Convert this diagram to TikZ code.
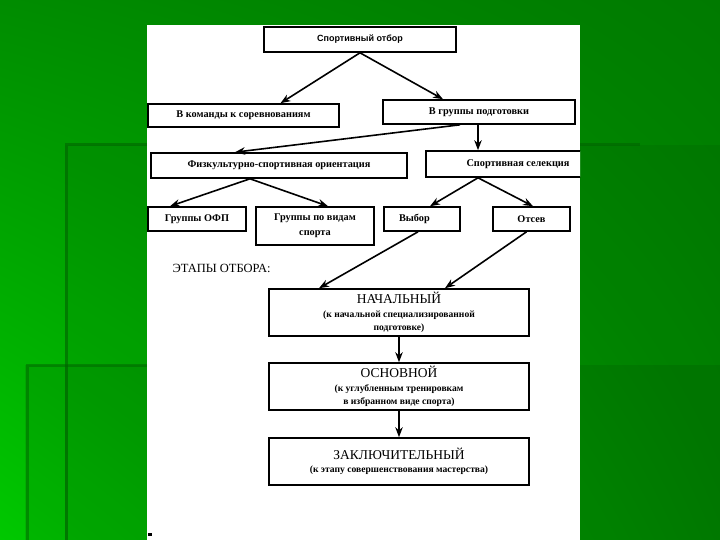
\documentclass[tikz,border=0pt]{standalone}
\usepackage{fontspec}
\setmainfont{Liberation Serif}
\setsansfont{Liberation Sans}
\usetikzlibrary{arrows.meta,shadings}
\definecolor{slidedark}{HTML}{007A00}
\definecolor{slidemid}{HTML}{008C00}
\definecolor{slidelight}{HTML}{00C800}
\definecolor{slideedge}{HTML}{006400}
\tikzset{
  box/.style={draw=black, line width=1.6pt, fill=white, inner sep=1pt, align=center,
    font=\bfseries\fontsize{10.3}{15}\selectfont},
  stage/.style={box, minimum width=260pt, minimum height=47pt, font=\fontsize{9.6}{13.5}\selectfont\bfseries},
  arr/.style={-{Stealth[length=10pt, width=7.5pt]}, line width=1.6pt},
}
\newcommand{\stagetitle}{\mdseries\fontsize{13.5}{15}\selectfont}

\begin{document}
\begin{tikzpicture}[x=1pt, y=-1pt]
  \useasboundingbox (0,0) rectangle (720,540);
  % slide background
  \shade[upper left=slidemid, upper right=slidedark, lower left=slidelight, lower right=slidemid]
    (0,0) rectangle (720,540);
  \fill[black, opacity=0.06] (65,145) rectangle (720,540);
  \draw[slideedge, line width=3pt, opacity=0.6] (66,540) -- (66,145) -- (640,145);
  \fill[black, opacity=0.08] (25,365) rectangle (720,540);
  \draw[slideedge, line width=3pt, opacity=0.5] (27,540) -- (27,365) -- (200,365);
  % page
  \fill[white] (147,25) rectangle (580,540);
  \fill[black] (148,533) rectangle (152,536);

  \begin{scope}
  \clip (147,25) rectangle (580,540);
  % upper levels
  \node[box, minimum width=192pt, minimum height=25pt, font=\sffamily\bfseries\fontsize{9}{10}\selectfont]
    (sport) at (360,39.5) {Спортивный отбор};
  \node[box, minimum width=191pt, minimum height=23pt] (teams) at (243.5,115.5) {В команды к соревнованиям};
  \node[box, minimum width=192pt, minimum height=24pt] (groups) at (479,112) {В группы подготовки};
  \node[box, minimum width=256pt, minimum height=25pt] (orient) at (279,165.5) {Физкультурно-спортивная ориентация};
  \node[box, minimum width=184pt, minimum height=26pt] (select) at (518,164) {Спортивная селекция};

  % third level
  \node[box, minimum width=98pt, minimum height=24pt] (ofp) at (197,219) {Группы ОФП};
  \node[box, minimum width=118pt, minimum height=38pt] (kinds) at (315,226) {Группы по видам\\спорта};
  \node[box, minimum width=76pt, minimum height=24pt, text width=66pt, align=left] (choice) at (422,219) {\hspace*{10pt}Выбор};
  \node[box, minimum width=77pt, minimum height=24pt] (dropout) at (531.5,219) {Отсев};

  % stages
  \node[anchor=west, font=\fontsize{12.5}{14}\selectfont] (stages) at (169,268) {ЭТАПЫ ОТБОРА:};
  \node[stage] (initial) at (399,312.5)
    {{\stagetitle НАЧАЛЬНЫЙ}\\(к начальной специализированной\\подготовке)};
  \node[stage] (basic) at (399,386.5)
    {{\stagetitle ОСНОВНОЙ}\\(к углубленным тренировкам\\в избранном виде спорта)};
  \node[stage] (final) at (399,461.5)
    {{\stagetitle ЗАКЛЮЧИТЕЛЬНЫЙ}\\(к этапу совершенствования мастерства)};

  % connectors
  \draw[arr] (sport.south) -- ([xshift=37pt]teams.north);
  \draw[arr] (sport.south) -- ([xshift=-36pt]groups.north);
  \draw[arr] ([xshift=-19pt]groups.south) -- ([xshift=-44pt]orient.north);
  \draw[arr] ([xshift=-1pt]groups.south) -- ([xshift=-40pt]select.north);
  \draw[arr] ([xshift=-29pt]orient.south) -- ([xshift=-27pt]ofp.north);
  \draw[arr] ([xshift=-29pt]orient.south) -- ([xshift=13pt]kinds.north);
  \draw[arr] ([xshift=-40pt]select.south) -- ([xshift=8pt]choice.north);
  \draw[arr] ([xshift=-40pt]select.south) -- ([xshift=1.5pt]dropout.north);
  \draw[arr] ([xshift=-4pt]choice.south) -- ([xshift=-80pt]initial.north);
  \draw[arr] ([xshift=-5pt]dropout.south) -- ([xshift=46pt]initial.north);
  \draw[arr] (initial.south) -- (basic.north);
  \draw[arr] (basic.south) -- (final.north);
  \end{scope}
\end{tikzpicture}
\end{document}
